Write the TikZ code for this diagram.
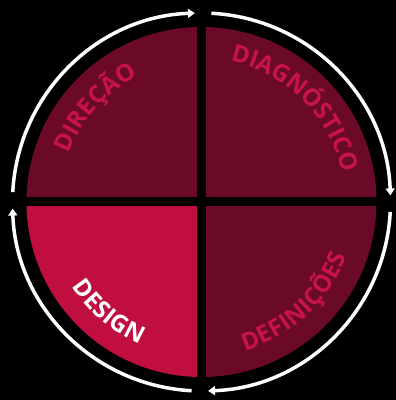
\documentclass[tikz,border=0pt]{standalone}
\usepackage{fontspec}
\newfontfamily\wordfont{Open Sans}
\usetikzlibrary{arrows.meta,decorations.text}
\definecolor{darkwine}{HTML}{6A0A27}
\definecolor{brightwine}{HTML}{C10E40}
\definecolor{wordwine}{HTML}{C8124A}
\newcommand\wordsize{\wordfont\bfseries\fontsize{24}{24}\selectfont}

\begin{document}
\begin{tikzpicture}[x=1pt,y=1pt]
		\fill[black] (0,0) rectangle (396,400);
		\useasboundingbox (0,0) rectangle (396,400);
		\coordinate (O) at (201.5,198);
		% quadrants and the black cross between them
		\foreach \a/\c in {0/darkwine,90/darkwine,180/brightwine,270/darkwine}
			\fill[\c] (O) -- ([shift={(\a:175pt)}]O) arc[start angle=\a, delta angle=90, radius=175pt] -- cycle;
		\draw[black, line width=9pt] ([xshift=-180pt]O) -- ([xshift=180pt]O);
		\draw[black, line width=9pt] ([yshift=-180pt]O) -- ([yshift=180pt]O);
		% cycle arrows
		\begin{scope}[>={Triangle[length=7pt,width=9pt]}, every path/.style={draw=white,line width=3.5pt}]
			\foreach \a in {0,90,180,270}
				\draw[->] ([shift={(\a+177:189pt)}]O) arc[start angle=\a+177, end angle=\a+92, radius=189pt];
		\end{scope}
		% words
		\begin{scope}[every path/.style={decorate}]
			\path[decoration={text along path, text align=fit to path,
				text={|\wordsize\color{wordwine}|DIREÇÃO}}]
				([shift={(160:141pt)}]O) arc[start angle=160, end angle=118, radius=141pt];
			\path[decoration={text along path, text align=fit to path,
				text={|\wordsize\color{wordwine}|DIAGNÓSTICO}}]
				([shift={(78.5:144pt)}]O) arc[start angle=78.5, end angle=14.5, radius=144pt];
			\path[decoration={text along path, text align=fit to path,
				text={|\wordsize\color{wordwine}|DEFINIÇÕES}}]
				([shift={(-73.8:155pt)}]O) arc[start angle=-73.8, end angle=-20.4, radius=155pt];
			\path[decoration={text along path, text align=fit to path,
				text={|\wordsize\color{white}|DESIGN}}]
				([shift={(213:155pt)}]O) arc[start angle=213, end angle=246.5, radius=155pt];
		\end{scope}
	\end{tikzpicture}
\end{document}
